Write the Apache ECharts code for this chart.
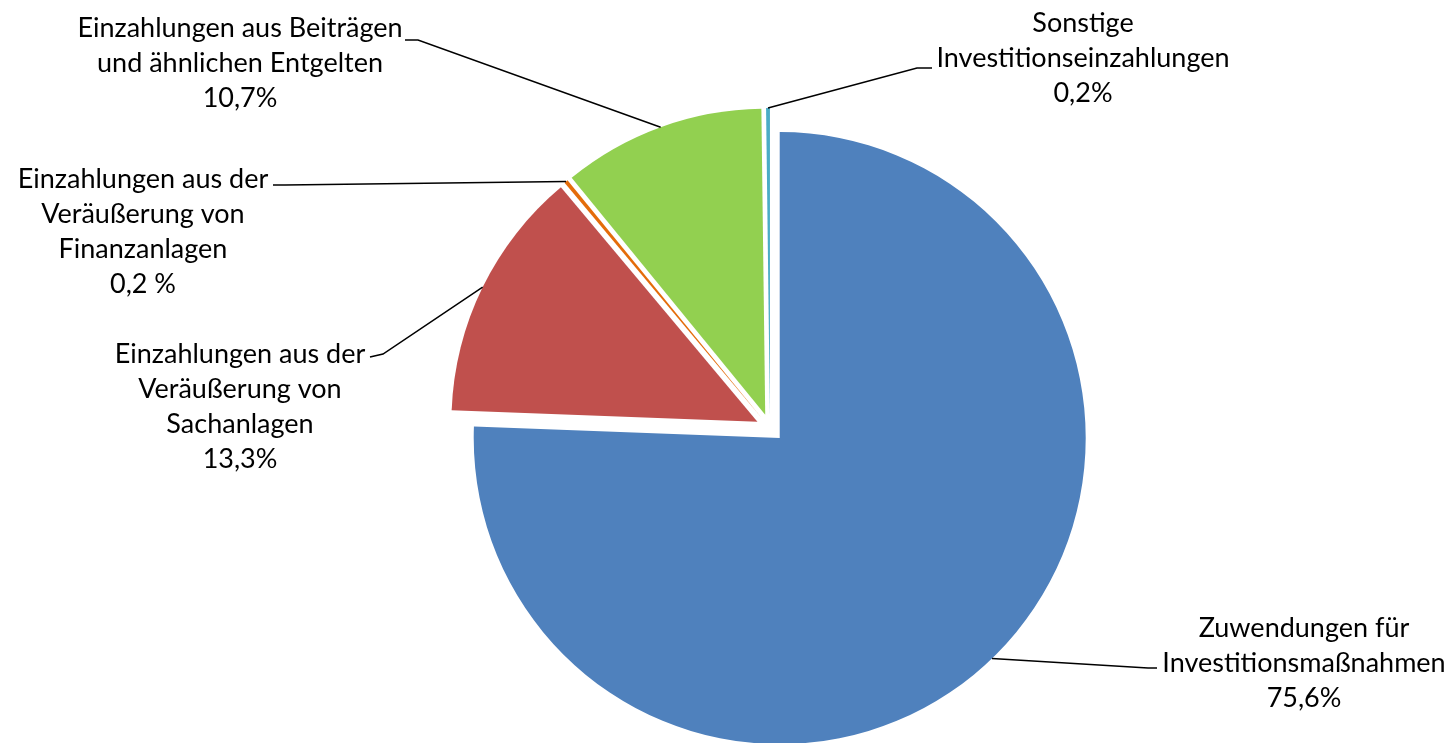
<!DOCTYPE html>
<html><head><meta charset="utf-8">
<script src="https://cdn.jsdelivr.net/npm/echarts@6/dist/echarts.min.js"></script>
<style>html,body{margin:0;padding:0;background:#fff}#c{width:1452px;height:743px}</style>
</head><body><div id="c"></div>
<script>
// ---- data ----
const categories = [
  'Zuwendungen für\nInvestitionsmaßnahmen',
  'Einzahlungen aus der\nVeräußerung von\nSachanlagen',
  'Einzahlungen aus der\nVeräußerung von\nFinanzanlagen',
  'Einzahlungen aus Beiträgen\nund ähnlichen Entgelten',
  'Sonstige\nInvestitionseinzahlungen'
];
const values = [75.6, 13.3, 0.2, 10.7, 0.2];
const percentLabels = ['75,6%', '13,3%', '0,2 %', '10,7%', '0,2%'];

// ---- styles / layout ----
const colors = ['#4F81BD', '#C0504D', '#E46C0A', '#92D050', '#4BACC6'];
const CENTER = [770, 428], RADIUS = 306, OFFSET = 14;
const labelPlace = [
  { x: 1304, y: 663, elbow: [1148, 668], end: [1157, 668] },
  { x: 240, y: 407, elbow: [383, 354], end: [370, 357] },
  { x: 143, y: 232, elbow: [285, 185], end: [273, 185] },
  { x: 240, y: 63, elbow: [418, 40], end: [405, 40] },
  { x: 1083, y: 58, elbow: [917, 68], end: [932, 68] }
];

const total = values.reduce((a, b) => a + b, 0);
function arcPoint(i) {
  let before = 0;
  for (let k = 0; k < i; k++) before += values[k];
  const ang = (before + values[i] / 2) / total * 2 * Math.PI;
  const r = RADIUS + OFFSET;
  return [CENTER[0] + r * Math.sin(ang), CENTER[1] - r * Math.cos(ang)];
}

const common = {
  type: 'pie',
  center: CENTER,
  radius: RADIUS,
  startAngle: 90,
  clockwise: true,
  avoidLabelOverlap: false,
  emphasis: { disabled: true }
};

const chart = echarts.init(document.getElementById('c'), null, { renderer: 'canvas' });
chart.setOption({
  animation: false,
  backgroundColor: '#fff',
  series: [
    Object.assign({}, common, {
      selectedMode: 'multiple',
      selectedOffset: OFFSET,
      label: { show: false },
      labelLine: { show: false },
      itemStyle: { borderWidth: 0 },
      data: categories.map((c, i) => ({
        name: c, value: values[i], selected: true,
        itemStyle: { color: colors[i] }
      }))
    }),
    Object.assign({}, common, {
      silent: true,
      selectedMode: false,
      z: 5,
      itemStyle: { color: 'rgba(0,0,0,0)', borderWidth: 0 },
      label: {
        show: true,
        position: 'outside',
        color: '#000',
        fontFamily: 'Lato',
        fontSize: 27,
        lineHeight: 35,
        align: 'center',
        formatter: p => categories[p.dataIndex] + '\n' + percentLabels[p.dataIndex]
      },
      labelLine: { show: true, lineStyle: { color: '#000', width: 1.5 } },
      labelLayout: function (params) {
        const i = params.dataIndex;
        const L = labelPlace[i];
        return {
          x: L.x, y: L.y, align: 'center', verticalAlign: 'middle',
          labelLinePoints: [arcPoint(i), L.elbow, L.end]
        };
      },
      data: categories.map((c, i) => ({ name: c, value: values[i] }))
    })
  ]
});
</script></body></html>
